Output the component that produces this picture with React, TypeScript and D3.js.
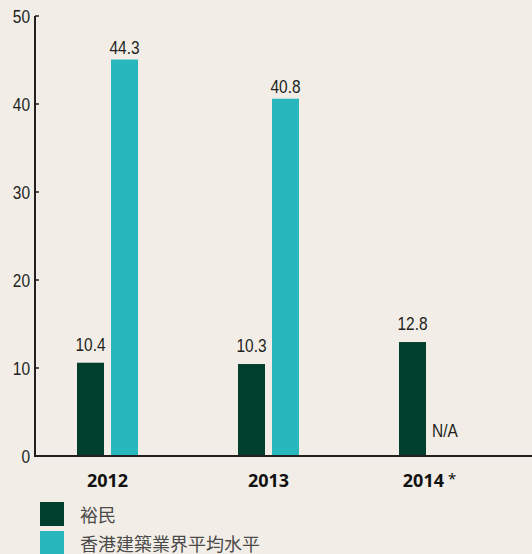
import React from "react";
import * as d3 from "d3";

const years = ["2012", "2013", "2014"];
const yearLabels = ["2012", "2013", "2014"];
const yearNotes = ["", "", " *"];
const seriesNames = ["裕民", "香港建築業界平均水平"];
// bar heights as drawn in the picture
const yumin = [10.6, 10.45, 12.95];
const industry: (number | null)[] = [45.05, 40.6, null];
// printed value labels
const yuminLabels = ["10.4", "10.3", "12.8"];
const industryLabels = ["44.3", "40.8", "N/A"];
const yTicks = [0, 10, 20, 30, 40, 50];

const W = 532;
const H = 554;
const BG = "#f2eee7";
const DARK = "#003f2b";
const TEAL = "#27b7bd";
const NUM_FONT = "'Liberation Sans', Arial, sans-serif";
const BOLD_FONT = "'Noto Sans', 'Open Sans', sans-serif";
const CJK_FONT = "'Noto Sans CJK TC', 'Noto Sans CJK SC', sans-serif";
const SX = 0.86;

function Num(props: { x: number; y: number; anchor?: "start" | "middle" | "end"; children: React.ReactNode }) {
  return (
    <text
      transform={`translate(${props.x},${props.y}) scale(${SX},1)`}
      textAnchor={props.anchor ?? "middle"}
      fontFamily={NUM_FONT}
      fontSize={18}
      fill="#231f20"
    >
      {props.children}
    </text>
  );
}

export default function App() {
  const y = d3.scaleLinear().domain([0, 50]).range([456, 16]);
  const x = d3
    .scaleBand<string>()
    .domain(years)
    .range([77, 460])
    .paddingInner(100 / 161)
    .paddingOuter(0);
  const xs = d3
    .scaleBand<string>()
    .domain(["a", "b"])
    .range([0, x.bandwidth()])
    .paddingInner(7 / 34);
  const bw = xs.bandwidth();

  return (
    <svg
      width={W}
      height={H}
      style={{ position: "absolute", left: 0, top: 0, display: "block" }}
    >
      <rect x={0} y={0} width={W} height={H} fill={BG} />
      {years.map((yr, i) => {
        const x0 = x(yr)!;
        const xa = x0 + xs("a")!;
        const xb = x0 + xs("b")!;
        const v2 = industry[i];
        return (
          <g key={yr}>
            <rect x={xa} y={y(yumin[i])} width={bw} height={y(0) - y(yumin[i])} fill={DARK} />
            <Num x={xa + bw / 2} y={y(yumin[i]) - 12}>{yuminLabels[i]}</Num>
            {v2 != null ? (
              <>
                <rect x={xb} y={y(v2)} width={bw} height={y(0) - y(v2)} fill={TEAL} />
                <Num x={xb + bw / 2} y={y(v2) - 6}>{industryLabels[i]}</Num>
              </>
            ) : (
              <Num x={xb - 1} y={y(0) - 19} anchor="start">{industryLabels[i]}</Num>
            )}
            <text
              x={x0 + x.bandwidth() / 2}
              y={487}
              textAnchor="middle"
              fontFamily={BOLD_FONT}
              fontWeight="bold"
              fontSize={18}
              fill="#111"
            >
              {yearLabels[i]}
              {yearNotes[i] && (
                <tspan fontWeight="normal" fontSize={15} dy={-3}>
                  {yearNotes[i]}
                </tspan>
              )}
            </text>
          </g>
        );
      })}
      <line x1={35} x2={35} y1={y(50)} y2={y(0)} stroke="#231f20" strokeWidth={2} />
      <line x1={34} x2={W} y1={y(0)} y2={y(0)} stroke="#231f20" strokeWidth={2} />
      {yTicks.map((t) => (
        <g key={t}>
          {t > 0 && (
            <line x1={35} x2={39} y1={y(t)} y2={y(t)} stroke="#231f20" strokeWidth={1.5} />
          )}
          <Num x={30} y={y(t) + 6.5} anchor="end">{t}</Num>
        </g>
      ))}
      {seriesNames.map((s, i) => (
        <g key={s}>
          <rect x={40} y={502 + i * 29} width={24} height={24} fill={i === 0 ? DARK : TEAL} />
          <text x={80} y={522 + i * 29} fontFamily={CJK_FONT} fontSize={18} fill="#4a4a4a">
            {s}
          </text>
        </g>
      ))}
    </svg>
  );
}
